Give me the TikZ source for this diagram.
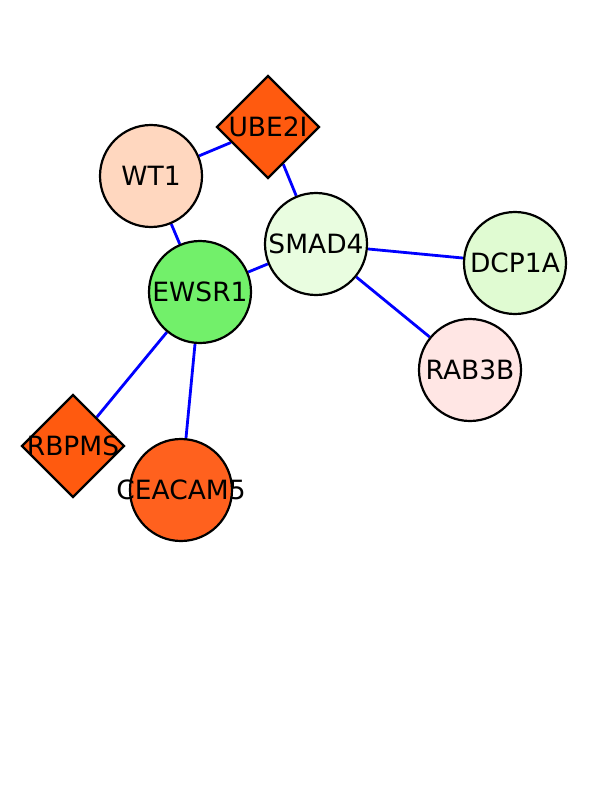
\documentclass[tikz,border=0pt]{standalone}
\usepackage{fontspec}
\setmainfont{DejaVu Sans}
\usetikzlibrary{shapes.geometric}
\usetikzlibrary{backgrounds}

\newcommand{\glbl}[1]{\makebox[0pt]{#1}}

\begin{document}
\begin{tikzpicture}[x=1pt, y=-1pt,
	gene/.style={circle, draw=black, line width=2.2pt, inner sep=0pt, minimum size=102pt,
		font=\fontsize{26.5}{30}\selectfont},
	hub/.style={diamond, draw=black, line width=2.2pt, inner sep=0pt, aspect=1, minimum size=103pt,
		font=\fontsize{26.5}{30}\selectfont},
	link/.style={draw=blue, line width=2.8pt}]
	\useasboundingbox (0,0) rectangle (612,792);

	\definecolor{peach}{HTML}{FFD7BF}
	\definecolor{redorange}{HTML}{FF5A0F}
	\definecolor{orangeb}{HTML}{FF611E}
	\definecolor{paleg}{HTML}{E9FDE0}
	\definecolor{midg}{HTML}{72F06A}
	\definecolor{lightg}{HTML}{E0FBD2}
	\definecolor{palepink}{HTML}{FFE6E4}

	\node[gene, fill=peach] (wt1) at (151,176) {\glbl{WT1}};
	\node[hub, fill=redorange] (ube2i) at (268,127) {\glbl{UBE2I}};
	\node[gene, fill=paleg] (smad4) at (316,244) {\glbl{SMAD4}};
	\node[gene, fill=midg] (ewsr1) at (200,292) {\glbl{EWSR1}};
	\node[gene, fill=lightg] (dcp1a) at (515,263) {\glbl{DCP1A}};
	\node[gene, fill=palepink] (rab3b) at (470,370) {\glbl{RAB3B}};
	\node[hub, fill=redorange] (rbpms) at (73,446) {\glbl{RBPMS}};
	\node[gene, fill=orangeb] (ceacam5) at (181,490) {\glbl{CEACAM5}};

	\begin{scope}[on background layer]
	\foreach \a/\b in {wt1/ube2i, wt1/ewsr1, ube2i/smad4, smad4/ewsr1,
		smad4/dcp1a, smad4/rab3b, ewsr1/rbpms, ewsr1/ceacam5}
	\draw[link] (\a) -- (\b);
	\end{scope}
\end{tikzpicture}
\end{document}
